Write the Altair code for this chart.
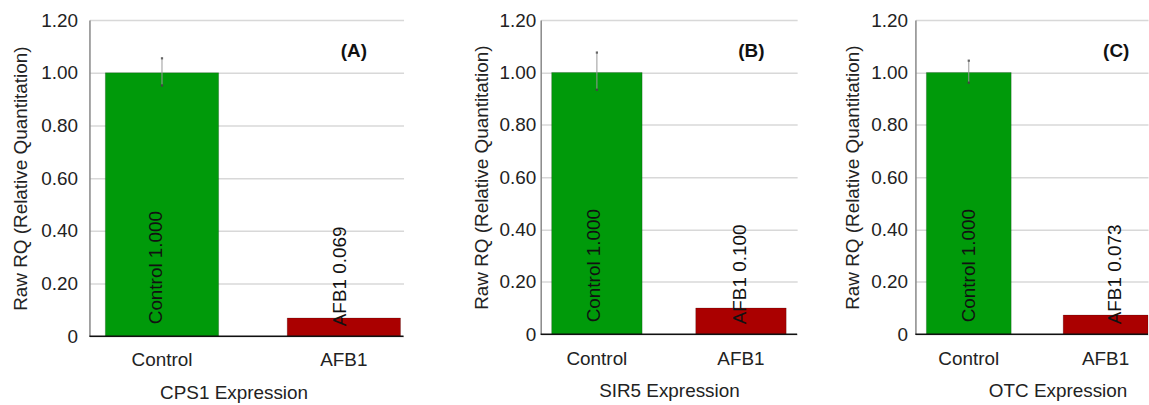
import altair as alt
import pandas as pd

genes = ["CPS1", "SIR5", "OTC"]
letters = ["(A)", "(B)", "(C)"]
groups = ["Control", "AFB1"]
rq_cps1 = [1.000, 0.069]
rq_sir5 = [1.000, 0.100]
rq_otc = [1.000, 0.073]
err_low = [0.952, 0.934, 0.961]
err_high = [1.055, 1.076, 1.045]
y_ticks = [0, 0.2, 0.4, 0.6, 0.8, 1.0, 1.2]

FONT = "Liberation Sans"
FS = 19
colors = ["#009A0A", "#AA0000"]

# per-panel layout params
panels = [
    dict(w=316, h=318, pin=0.377, pout=0.052, align=0.84, lp=12, tp=10, dy_c=-6, dy_a=-4, lx=266, extra=23, tx=145),
    dict(w=258, h=316, pin=0.372, pout=0.076, align=0.5, lp=5, tp=8, dy_c=-3, dy_a=-1, lx=212, extra=0, tx=None),
    dict(w=234, h=316, pin=0.38, pout=0.04, align=1.0, lp=8, tp=8, dy_c=0, dy_a=9, lx=202, extra=0, tx=143),
]
values = [rq_cps1, rq_sir5, rq_otc]


def fmt(v):
    return f"{v:.3f}"


def make_panel(i):
    p = panels[i]
    df = pd.DataFrame({
        "group": groups,
        "rq": values[i],
        "label": [f"{g} {fmt(v)}" for g, v in zip(groups, values[i])],
    })
    err = pd.DataFrame({"group": ["Control"], "lo": [err_low[i]], "hi": [err_high[i]]})
    xscale = alt.Scale(domain=groups, paddingInner=p["pin"], paddingOuter=p["pout"], align=p["align"])
    yscale = alt.Scale(domain=[0, 1.2], nice=False)
    xaxis_kw = dict(title=f"{genes[i]} Expression", labelAngle=0, ticks=False,
                    domain=False, labelPadding=15, titlePadding=14,
                    labelFont=FONT, titleFont=FONT, labelFontSize=FS, titleFontSize=FS,
                    titleFontWeight="normal", labelColor="#222", titleColor="#222")
    if p["tx"] is not None:
        xaxis_kw["titleX"] = p["tx"]
    x = alt.X("group:N", scale=xscale, sort=groups, axis=alt.Axis(**xaxis_kw))
    base = alt.Chart(df)
    bars = base.mark_bar(stroke="#00000030", strokeWidth=1).encode(
        x=x,
        y=alt.Y("rq:Q", scale=yscale,
                axis=alt.Axis(title="Raw RQ (Relative Quantitation)", values=y_ticks,
                              labelExpr="datum.value == 0 ? '0' : format(datum.value, '.2f')",
                              ticks=False, domainColor="#888", domainWidth=1.5,
                              gridColor="#d8d8d8", gridWidth=1.5,
                              labelPadding=p["lp"], titlePadding=p["tp"],
                              labelFont=FONT, titleFont=FONT, labelFontSize=FS, titleFontSize=FS,
                              titleFontWeight="normal", labelColor="#222", titleColor="#222")),
        color=alt.Color("group:N", scale=alt.Scale(domain=groups, range=colors), legend=None),
    )
    baseline = alt.Chart(pd.DataFrame({"z": [0]})).mark_rule(color="#111", strokeWidth=1.5).encode(
        y=alt.Y("z:Q", scale=yscale), x=alt.value(0), x2=alt.value(p["w"]))
    rule = alt.Chart(err).mark_rule(color="#999", strokeWidth=1).encode(
        x=alt.X("group:N", scale=xscale, sort=groups), y="lo:Q", y2="hi:Q")
    caps_lo = alt.Chart(err).mark_square(size=5, color="#444", opacity=1).encode(
        x=alt.X("group:N", scale=xscale, sort=groups), y="lo:Q")
    caps_hi = alt.Chart(err).mark_square(size=5, color="#666", opacity=1).encode(
        x=alt.X("group:N", scale=xscale, sort=groups), y="hi:Q")
    lab_c = alt.Chart(df.iloc[[0]]).mark_text(angle=270, align="left", baseline="middle",
                                              font=FONT, fontSize=FS, color="#111", dy=p["dy_c"]).encode(
        x=alt.X("group:N", scale=xscale, sort=groups), y=alt.value(p["h"] - 12), text="label:N")
    lab_a = alt.Chart(df.iloc[[1]]).mark_text(angle=270, align="left", baseline="middle",
                                              font=FONT, fontSize=FS, color="#111", dy=p["dy_a"]).encode(
        x=alt.X("group:N", scale=xscale, sort=groups), y=alt.value(p["h"] - 10), text="label:N")
    letter = alt.Chart(pd.DataFrame({"t": [letters[i]]})).mark_text(
        font=FONT, fontSize=FS, fontWeight="bold", color="#111").encode(
        x=alt.value(p["lx"]), y=alt.value(31), text="t:N")
    layers = [bars, baseline, rule, caps_lo, caps_hi, lab_c, lab_a, letter]
    if p["extra"] > 0:
        ghost = alt.Chart(pd.DataFrame({"z": [0]})).mark_rule(strokeOpacity=0).encode(
            x=alt.value(p["w"] + p["extra"]), y=alt.value(0), y2=alt.value(5))
        layers.append(ghost)
    return alt.layer(*layers).properties(width=p["w"], height=p["h"])


chart = alt.hconcat(*[make_panel(i) for i in range(3)], spacing=46).properties(
    padding={"left": 12, "top": 10, "right": 0, "bottom": 0}
).configure_view(stroke=None).configure_axis(gridOpacity=1).configure_concat(spacing=46)

chart.save("out.html", embed_options={"renderer": "svg", "actions": False})
